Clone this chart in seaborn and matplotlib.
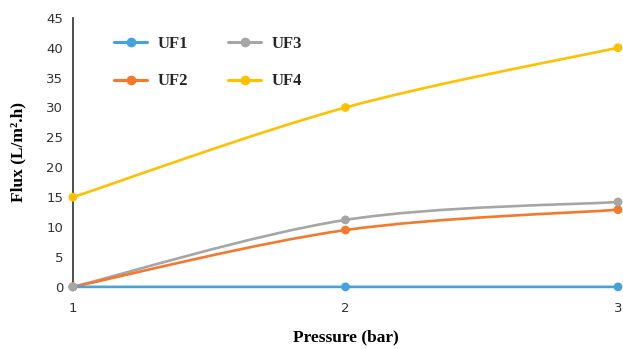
import numpy as np
import pandas as pd
import matplotlib
matplotlib.use("Agg")
import matplotlib.pyplot as plt
from matplotlib.path import Path
from matplotlib.patches import PathPatch
from matplotlib.lines import Line2D
import seaborn as sns

# Flux measured at each transmembrane pressure
pressure = [1, 2, 3]
uf1 = [0, 0, 0]
uf2 = [0, 9.5, 12.9]
uf3 = [0, 11.2, 14.2]
uf4 = [15, 30, 40]
series_names = ["UF1", "UF2", "UF3", "UF4"]
colors = {"UF1": "#45A2E0", "UF2": "#F5782D", "UF3": "#A6A6A6", "UF4": "#FFC000"}

df = pd.DataFrame({
    "Pressure": pressure * 4,
    "Flux": uf1 + uf2 + uf3 + uf4,
    "Series": sum([[n] * len(pressure) for n in series_names], []),
})

sns.set_style("white")
plt.rcParams["font.family"] = ["DejaVu Sans"]

fig = plt.figure(figsize=(6.23, 3.49), dpi=100)
ax = fig.add_axes([0.117, 0.178, 0.875, 0.771])


def smooth_path(xs, ys):
    """Cubic Bezier through the points, spreadsheet-style smoothing."""
    pts = np.column_stack([xs, ys]).astype(float)
    n = len(pts)
    verts = [pts[0]]
    codes = [Path.MOVETO]
    for i in range(n - 1):
        p_prev = pts[max(i - 1, 0)]
        p0, p1 = pts[i], pts[i + 1]
        p_next = pts[min(i + 2, n - 1)]
        c1 = p0 + (p1 - p_prev) / 6.0
        c2 = p1 - (p_next - p0) / 6.0
        verts += [c1, c2, p1]
        codes += [Path.CURVE4] * 3
    return Path(verts, codes)


# UF1 drawn last so it sits on top of the baseline
for name in ["UF4", "UF3", "UF2", "UF1"]:
    sub = df[df["Series"] == name]
    patch = PathPatch(smooth_path(sub["Pressure"], sub["Flux"]), facecolor="none",
                      edgecolor=colors[name], lw=1.9, clip_on=False, zorder=3)
    ax.add_patch(patch)

sns.scatterplot(data=df, x="Pressure", y="Flux", hue="Series", palette=colors,
                s=40, edgecolor="none", legend=False, ax=ax, clip_on=False, zorder=4)

ax.set_xlim(1, 3)
ax.set_ylim(0, 45)
ax.set_xticks(pressure)
ax.set_yticks(np.arange(0, 46, 5))
ax.tick_params(axis="x", length=0, labelsize=9.5, pad=11)
ax.tick_params(axis="y", length=0, labelsize=9.5, pad=7)
for lab in ax.get_xticklabels() + ax.get_yticklabels():
    lab.set_color("#333333")

for side in ["top", "right", "bottom"]:
    ax.spines[side].set_visible(False)
ax.spines["left"].set_color("#404040")
ax.spines["left"].set_linewidth(1.3)

label_font = dict(family="Liberation Serif", fontweight="bold", fontsize=12.5, color="black")
ax.set_xlabel("Pressure (bar)", labelpad=10, **label_font)
ax.set_ylabel("Flux (L/m².h)", labelpad=14, **label_font)

handles = [Line2D([0], [0], color=colors[n], lw=2.2, marker="o", markersize=6) for n in series_names]
leg = ax.legend(handles, series_names, ncol=2, frameon=False,
                loc="upper left", bbox_to_anchor=(0.183, 0.896), bbox_transform=fig.transFigure,
                prop={"family": "Liberation Serif", "weight": "bold", "size": 12},
                handlelength=2.0, handletextpad=0.6, columnspacing=2.4, labelspacing=1.27,
                borderaxespad=0, borderpad=0)

fig.savefig("out.png", dpi=100)
